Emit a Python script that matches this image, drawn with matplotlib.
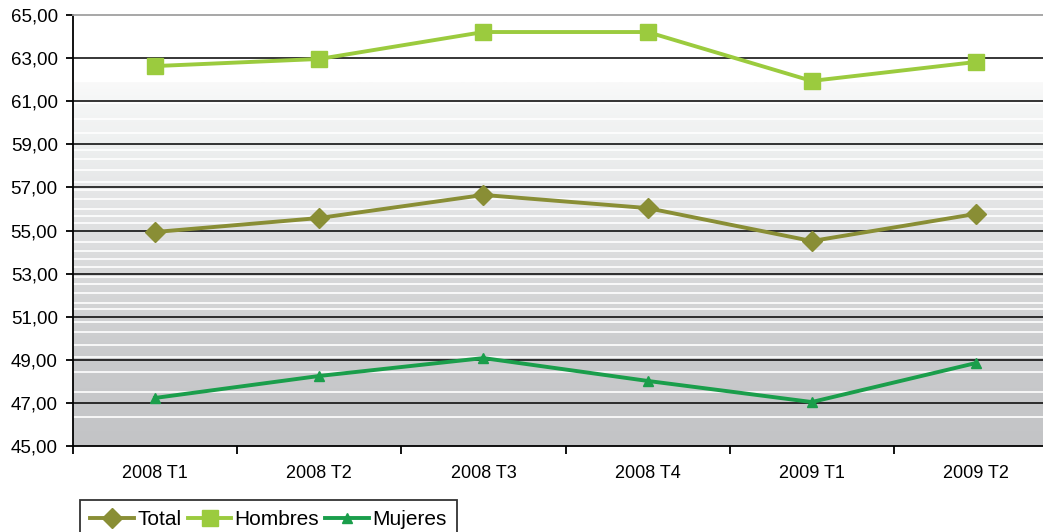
import matplotlib.pyplot as plt
import numpy as np
from matplotlib.colors import LinearSegmentedColormap
from matplotlib.ticker import FixedLocator, FuncFormatter

plt.rcParams['font.family'] = ['Liberation Sans', 'DejaVu Sans']

# Data
categories = ['2008 T1', '2008 T2', '2008 T3', '2008 T4', '2009 T1', '2009 T2']
total = [54.93, 55.58, 56.65, 56.04, 54.51, 55.77]
hombres = [62.63, 62.96, 64.21, 64.21, 61.94, 62.82]
mujeres = [47.23, 48.25, 49.08, 48.02, 47.04, 48.85]

y_ticks = [45, 47, 49, 51, 53, 55, 57, 59, 61, 63, 65]

# background band stripes (white lines in the gradient)
stripe_levels = [46.36, 47.52, 48.42, 49.12, 49.69, 50.3, 50.77, 51.34, 51.65,
                 52.11, 52.52, 52.86, 53.29, 53.66, 54.06, 54.45, 55.33, 55.67,
                 55.99, 56.45, 56.88, 57.25, 57.8, 58.3, 58.74, 59.52, 60.17, 60.92]

fig = plt.figure(figsize=(10.43, 5.32), dpi=100)
ax = fig.add_axes([73 / 1043, 1 - 446 / 532, (1058 - 73) / 1043, 431 / 532])

x = np.arange(len(categories))
ax.set_xlim(-0.5, len(categories) - 0.5)
ax.set_ylim(45, 65)

# gradient background, grey at the bottom to almost white near 62
grad_top = 61.85
cmap = LinearSegmentedColormap.from_list('bg', [
    (0.0, '#c3c4c6'), (4 / 16.85, '#c9cacc'), (8 / 16.85, '#d8d9da'),
    (12 / 16.85, '#e6e7e8'), (14 / 16.85, '#eef0f0'), (16 / 16.85, '#f5f6f6'),
    (1.0, '#f9f9f9')])
grad = np.linspace(0, 1, 256).reshape(-1, 1)
ax.imshow(grad, aspect='auto', cmap=cmap, origin='lower',
          extent=[-0.5, len(categories) - 0.5, 45, grad_top], zorder=0)
for lvl in stripe_levels:
    ax.axhline(lvl, color='white', lw=1.2, zorder=1)

# grid lines
for yt in y_ticks[1:-1]:
    ax.axhline(yt, color='black', lw=1.1, zorder=2)

ax.plot(x, total, color='#898e35', lw=2.8, marker='D', markersize=10.5,
        label='Total', zorder=4)
ax.plot(x, hombres, color='#9bcb3e', lw=2.8, marker='s', markersize=11.5,
        label='Hombres', zorder=4)
ax.plot(x, mujeres, color='#1a9e4b', lw=2.8, marker='^', markersize=6.5,
        label='Mujeres', zorder=4)

# axes styling
ax.spines['right'].set_visible(False)
ax.spines['top'].set_color('#a0a0a0')
ax.spines['top'].set_linewidth(1.3)
ax.spines['left'].set_linewidth(1.3)
ax.spines['bottom'].set_linewidth(1.3)

ax.set_yticks(y_ticks)
ax.yaxis.set_major_formatter(FuncFormatter(lambda v, p: f'{v:.2f}'.replace('.', ',')))
ax.tick_params(axis='y', length=5, width=1.3, labelsize=13.5, pad=6)

ax.xaxis.set_major_locator(FixedLocator(np.arange(-0.5, len(categories) + 0.5, 1)))
ax.set_xticklabels([])
ax.set_xticks(x, minor=True)
ax.set_xticklabels(categories, minor=True)
ax.tick_params(axis='x', which='major', length=6, width=1.3)
ax.tick_params(axis='x', which='minor', length=0, labelsize=13, pad=14)

leg = fig.legend(loc='upper left', bbox_to_anchor=(80 / 1043, 1 - 500 / 532),
                 ncol=3, fontsize=15, frameon=True, fancybox=False,
                 handlelength=2.1, handletextpad=0.15, columnspacing=0.3,
                 borderpad=0.5, borderaxespad=0)
leg.get_frame().set_edgecolor('black')
leg.get_frame().set_linewidth(1.3)

fig.savefig('out.png', dpi=100)
